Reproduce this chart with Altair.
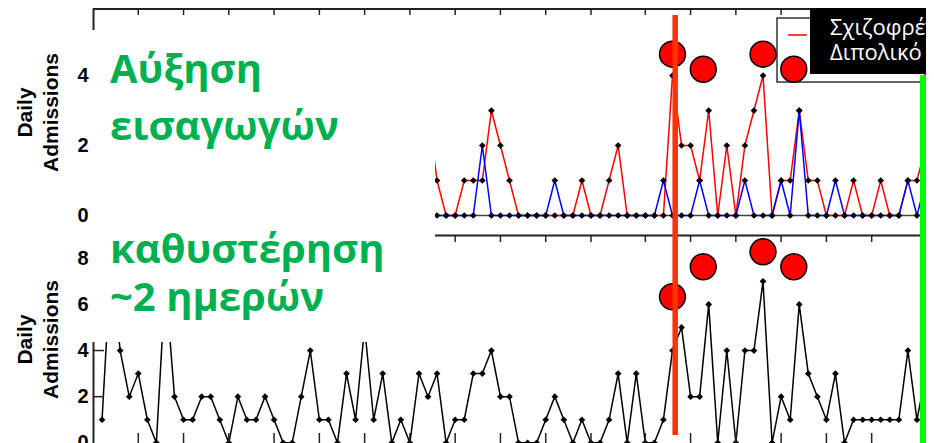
import altair as alt
import pandas as pd

# ---------------- data ----------------
# x = day index counted from the first day of the axis (day 1 of the first month)
tick_days = [5, 10, 15, 20, 25, 30, 35, 40, 45, 50, 55, 61, 66, 71, 76, 81, 86]

# lower panel: all daily admissions (days 1..92)
all_days = list(range(1, 93))
all_admissions = [1, 8, 4, 2, 3, 1, 0, 7, 2, 1,
                  1, 2, 2, 1, 0, 2, 1, 1, 2, 1,
                  0, 0, 2, 4, 1, 1, 0, 3, 1, 5,
                  1, 3, 0, 1, 0, 3, 2, 3, 0, 1,
                  1, 3, 3, 4, 2, 2, 0, 0, 0, 1,
                  2, 1, 0, 1, 0, 0, 1, 3, 0, 3,
                  0, 0, 1, 4, 5, 2, 2, 6, 0, 4,
                  0, 4, 4, 7, 0, 2, 1, 6, 3, 2,
                  1, 3, 0, 1, 1, 1, 1, 1, 1, 4,
                  1, 3]

# upper panel: schizophrenia (red) and bipolar (blue), visible days 37..92
split_days = list(range(37, 93))
schizophrenia = [3, 1, 0, 0, 1, 1, 1, 3, 2, 1,
                 0, 0, 0, 0, 0, 0, 0, 1, 0, 0,
                 1, 2, 0, 0, 0, 0, 0, 4, 2, 2,
                 1, 3, 0, 2, 0, 2, 3, 4, 0, 1,
                 1, 3, 1, 1, 0, 0, 0, 1, 0, 0,
                 1, 0, 0, 1, 1, 2]
bipolar = [0, 0, 0, 0, 0, 0, 2, 0, 0, 0,
           0, 0, 0, 0, 1, 0, 0, 0, 0, 0,
           0, 0, 0, 0, 0, 0, 1, 0, 0, 0,
           1, 0, 0, 0, 0, 1, 0, 0, 0, 1,
           0, 3, 0, 0, 0, 1, 0, 0, 0, 0,
           0, 0, 0, 1, 0, 1]

top_axis_values = [0, 2, 4]
bottom_axis_values = [0, 2, 4, 6, 8]
bottom_inner_ticks = [2, 4, 6, 8]

# annotations
circle_days = [64.0, 67.4, 74.0, 77.4]
circle_top_vals = [4.61, 4.18, 4.61, 4.18]
circle_bottom_vals = [6.33, 7.63, 8.28, 7.63]
event_day = [64.3]
callout_lines_1 = ["Αύξηση", "εισαγωγών"]
callout_lines_2 = ["καθυστέρηση", "~2 ημερών"]
legend_labels = ["Σχιζοφρένεια", "Διπολικό"]
axis_title = ["Daily", "Admissions"]

# ---------------- tables ----------------
bottom_df = pd.DataFrame({"day": all_days, "v": all_admissions})
red_df = pd.DataFrame({"day": split_days, "v": schizophrenia})
blue_df = pd.DataFrame({"day": split_days, "v": bipolar})
ticks_df = pd.DataFrame({"day": tick_days})
ytick_df = pd.DataFrame({"v": bottom_inner_ticks})
base_df = pd.DataFrame({"day": [0, 92], "v": [0, 0]})
circ_top_df = pd.DataFrame({"day": circle_days, "v": circle_top_vals})
circ_bot_df = pd.DataFrame({"day": circle_days, "v": circle_bottom_vals})
event_df = pd.DataFrame({"day": event_day})
one = pd.DataFrame({"a": [0]})

W, H = 833, 435
x_scale = alt.Scale(domain=[0, 92], nice=False, zero=False)
top_scale = alt.Scale(domain=[0, 5.93], range=[207.5, 0], nice=False, zero=False)
bot_scale = alt.Scale(domain=[0, 9], range=[434.8, 227.2], nice=False, zero=False)

X = alt.X("day:Q", scale=x_scale, axis=None)


def y_axis(values, title_y):
    return alt.Axis(values=values, orient="left", format="d", grid=False,
                    tickSize=0, labelPadding=5,
                    labelFont="Liberation Sans", labelFontSize=20,
                    labelFontWeight="bold", labelColor="black",
                    domainColor="#222222", domainWidth=2,
                    title=axis_title, titleFont="Liberation Sans",
                    titleFontSize=21, titleFontWeight="bold",
                    titleColor="black", titleLineHeight=26,
                    titleAngle=270, titleBaseline="bottom",
                    titleX=-58, titleY=title_y)


# ---------------- upper panel ----------------
top_base = alt.Chart(base_df).mark_line(color="#444444", strokeWidth=1.5).encode(
    x=X, y=alt.Y("v:Q", scale=top_scale, axis=None))
red_line = alt.Chart(red_df).mark_line(color="#ff0000", strokeWidth=1.5).encode(
    x=X, y=alt.Y("v:Q", scale=top_scale, axis=y_axis(top_axis_values, 104)))
blue_line = alt.Chart(blue_df).mark_line(color="#0000ff", strokeWidth=1.5).encode(
    x=X, y=alt.Y("v:Q", scale=top_scale, axis=None))
marker = dict(shape="diamond", size=45, filled=True, color="black", opacity=1)
red_pts = alt.Chart(red_df).mark_point(**marker).encode(
    x=X, y=alt.Y("v:Q", scale=top_scale, axis=None))
blue_pts = alt.Chart(blue_df).mark_point(**marker).encode(
    x=X, y=alt.Y("v:Q", scale=top_scale, axis=None))

# ---------------- lower panel ----------------
bot_line = alt.Chart(bottom_df).mark_line(color="black", strokeWidth=1.5).encode(
    x=X, y=alt.Y("v:Q", scale=bot_scale, axis=y_axis(bottom_axis_values, 331)))
bot_pts = alt.Chart(bottom_df).mark_point(**marker).encode(
    x=X, y=alt.Y("v:Q", scale=bot_scale, axis=None))

# ---------------- frames and ticks ----------------
frame = dict(color="#222222", strokeWidth=2)
top_border = alt.Chart(one).mark_rule(**frame).encode(
    x=alt.value(0), x2=alt.value(W), y=alt.value(1))
mid_border = alt.Chart(one).mark_rule(**frame).encode(
    x=alt.value(0), x2=alt.value(W), y=alt.value(227.5))
right_border = alt.Chart(one).mark_rule(**frame).encode(
    x=alt.value(831.5), y=alt.value(0), y2=alt.value(H))
tick_style = dict(color="#222222", strokeWidth=1.5)
ticks_top = alt.Chart(ticks_df).mark_rule(**tick_style).encode(
    x=X, y=alt.value(0), y2=alt.value(7))
ticks_mid = alt.Chart(ticks_df).mark_rule(**tick_style).encode(
    x=X, y=alt.value(227), y2=alt.value(234))
ticks_bot = alt.Chart(ticks_df).mark_rule(**tick_style).encode(
    x=X, y=alt.value(425), y2=alt.value(H))
yticks_left = alt.Chart(ytick_df).mark_rule(**tick_style).encode(
    y=alt.Y("v:Q", scale=bot_scale, axis=None), x=alt.value(0), x2=alt.value(11))

# ---------------- overlays ----------------
white_box = alt.Chart(one).mark_rect(color="white", opacity=1).encode(
    x=alt.value(-3), x2=alt.value(342), y=alt.value(22), y2=alt.value(334))
green_text_style = dict(align="left", baseline="alphabetic", font="Open Sans",
                        fontSize=40, fontWeight="bold", color="#00B050")
callout1 = alt.Chart(one).mark_text(lineHeight=57, text=callout_lines_1,
                                    **green_text_style).encode(
    x=alt.value(17), y=alt.value(75))
callout2 = alt.Chart(one).mark_text(lineHeight=48, text=callout_lines_2,
                                    **green_text_style).encode(
    x=alt.value(17), y=alt.value(255))

legend_frame = alt.Chart(one).mark_rect(fill="white", stroke="#333333",
                                        strokeWidth=1.5, opacity=1).encode(
    x=alt.value(684), x2=alt.value(832), y=alt.value(10), y2=alt.value(74))
legend_red = alt.Chart(one).mark_rule(color="#ff0000", strokeWidth=1.5).encode(
    x=alt.value(695), x2=alt.value(714), y=alt.value(27))

circle_style = dict(color="#ff0000", stroke="black", strokeWidth=1.5,
                    size=670, opacity=1)
circ_top = alt.Chart(circ_top_df).mark_circle(**circle_style).encode(
    x=X, y=alt.Y("v:Q", scale=top_scale, axis=None))
circ_bot = alt.Chart(circ_bot_df).mark_circle(**circle_style).encode(
    x=X, y=alt.Y("v:Q", scale=bot_scale, axis=None))

event_rule = alt.Chart(event_df).mark_rule(color="#ff3300", strokeWidth=5.5).encode(
    x=X, y=alt.value(7), y2=alt.value(427))

black_box = alt.Chart(one).mark_rect(color="black", opacity=1).encode(
    x=alt.value(717), x2=alt.value(W), y=alt.value(0), y2=alt.value(66))
legend_text = alt.Chart(one).mark_text(align="left", baseline="alphabetic",
                                       font="Open Sans", fontSize=22,
                                       color="white", lineHeight=25,
                                       text=legend_labels).encode(
    x=alt.value(737), y=alt.value(27))
green_bar = alt.Chart(one).mark_rect(color="#00ff00", opacity=1).encode(
    x=alt.value(827), x2=alt.value(W), y=alt.value(67), y2=alt.value(H))

chart = alt.layer(
    top_base, red_line, blue_line, red_pts, blue_pts,
    bot_line, bot_pts,
    top_border, mid_border, right_border,
    ticks_top, ticks_mid, ticks_bot, yticks_left,
    white_box, callout1, callout2,
    legend_frame, legend_red,
    circ_top, circ_bot, event_rule,
    black_box, legend_text, green_bar,
).resolve_scale(y="independent").properties(
    width=W, height=H,
    autosize=alt.AutoSizeParams(type="none"),
    padding={"left": 85, "top": 0, "right": 0, "bottom": 0},
).configure_view(stroke=None)

chart.save("out.html", embed_options={"renderer": "svg", "actions": False})
